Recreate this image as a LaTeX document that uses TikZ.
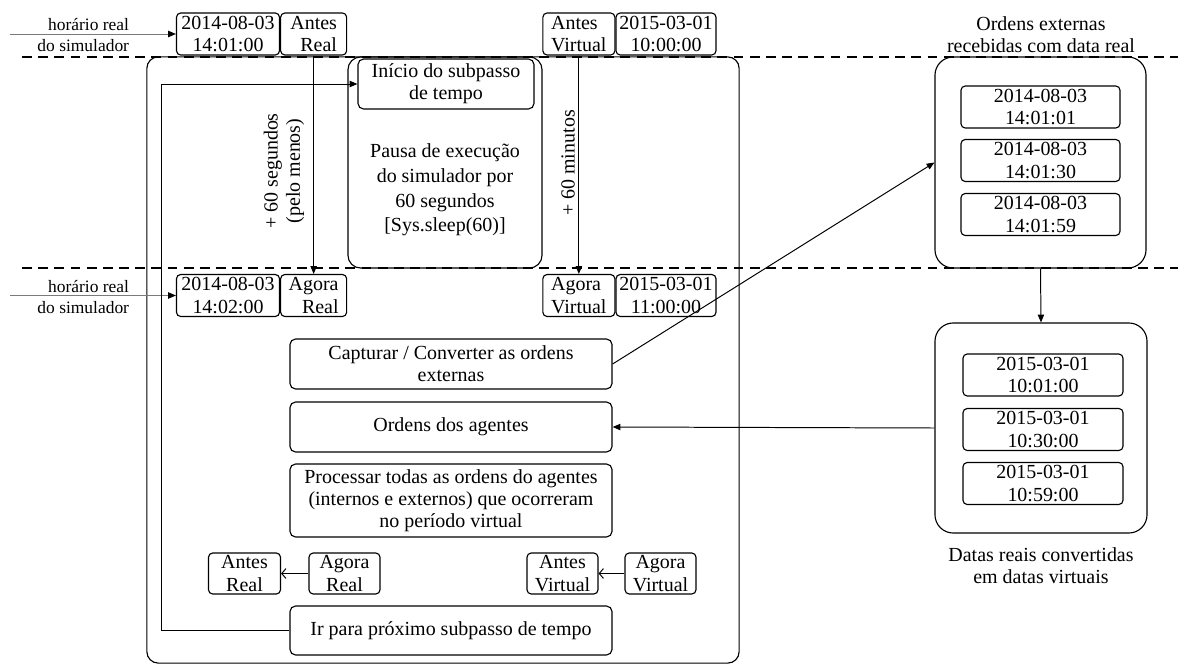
\documentclass[tikz,border=0pt]{standalone}
\usepackage{fontspec}
\setmainfont{Liberation Serif}
\usetikzlibrary{arrows.meta, calc, positioning}
\definecolor{ink}{HTML}{000000}
\definecolor{feed}{HTML}{7A7A7A}

\begin{document}
\begin{tikzpicture}[
    x=0.025cm,
    y=-0.025cm,
    font=\fontsize{14.2}{15.8}\selectfont,
    text=ink,
    flow/.style={
      draw=ink,
      line width=0.7pt,
      -{Triangle[length=5.5pt,width=4.5pt]},
    },
    back/.style={
      draw=ink,
      line width=0.7pt,
      -{Straight Barb[length=3pt,width=7pt]},
    },
    feedline/.style={
      draw=feed,
      line width=0.6pt,
      -{Triangle[length=5.5pt,width=4.5pt,color=ink]},
    },
    sep/.style={
      draw=ink,
      line width=1.3pt,
      dash pattern=on 7pt off 4.5pt,
    },
    stamp/.style={
      draw=ink,
      line width=0.8pt,
      rounded corners=3pt,
      minimum width=2.575cm,
      minimum height=1.05cm,
      inner sep=0pt,
      align=center,
    },
    tag/.style={
      stamp,
      minimum width=1.65cm,
    },
    mini/.style={
      stamp,
      minimum width=1.8cm,
      minimum height=1.025cm,
    },
    card/.style={
      draw=ink,
      line width=0.8pt,
      rounded corners=4pt,
      minimum width=8.05cm,
      minimum height=1.25cm,
      inner sep=0pt,
      align=center,
    },
    panel/.style={
      draw=ink,
      line width=0.8pt,
      rounded corners=#1,
      inner sep=0pt,
    },
    note/.style={
      font=\fontsize{12.4}{15.6}\selectfont,
      align=right,
      anchor=east,
    },
  ]

  \useasboundingbox (0,0) rectangle (1178,664);

  % Time step separators
  \draw[sep] (22,57) -- (1178,57);
  \draw[sep] (22,268) -- (1178,268);

  % Simulator loop
  \node[panel=8pt, minimum width=14.8cm, minimum height=15.15cm] (sim) at (443,360) {};
  \node[panel=9pt, minimum width=4.85cm, minimum height=5.275cm] (pausa) at (445,162.5) {};
  \node[card, minimum width=4.4cm] (inicio) at (446,84) {Início do subpasso\\de tempo};
  \node[align=center, font=\fontsize{14.2}{17.6}\selectfont] (pausaTxt) at (445,190) {%
    Pausa de execução\\do simulador por\\60 segundos\\{[Sys.sleep(60)]}};

  % Clocks before the pause
  \node[stamp] (dateAR) at (228,34) {2014-08-03\\14:01:00};
  \node[tag, right=0pt of dateAR, align=right] (antesR) {Antes\\Real};
  \node[stamp, minimum width=2.5cm] (dateAV) at (666,34) {2015-03-01\\10:00:00};
  \node[tag, minimum width=1.8cm, left=0pt of dateAV, align=left] (antesV) {Antes\\Virtual};

  % Clocks after the pause
  \node[stamp] (dateNR) at (228,295.5) {2014-08-03\\14:02:00};
  \node[tag, right=0pt of dateNR, align=right] (agoraR) {Agora\\Real};
  \node[stamp, minimum width=2.5cm] (dateNV) at (666,295.5) {2015-03-01\\11:00:00};
  \node[tag, minimum width=1.8cm, left=0pt of dateNV, align=left] (agoraV) {Agora\\Virtual};

  % Wall clock feeds
  \node[note] (noteA) at (134,35) {horário real\\do simulador};
  \node[note] (noteN) at (134,297) {horário real\\do simulador};
  \coordinate (inA) at (10,34);
  \coordinate (inN) at (10,295.5);
  \draw[feedline] (inA) -- (dateAR.west);
  \draw[feedline] (inN) -- (dateNR.west);

  % Clock advances
  \draw[flow] (antesR.south) -- (antesR.south |- agoraR.north);
  \draw[flow] (antesV.south) -- (antesV.south |- agoraV.north);
  \node[rotate=90, align=center] (gainR) at (284,171) {+ 60 segundos\\(pelo menos)};
  \node[rotate=90] (gainV) at (568,163) {+ 60 minutos};

  % Step cards
  \node[card] (capt) at (451,364) {Capturar / Converter as ordens\\externas};
  \node[card] (agent) at (451,427) {Ordens dos agentes};
  \node[card, minimum height=1.825cm] (proc) at (451,500.5) {%
    Processar todas as ordens do agentes\\(internos e externos) que ocorreram\\no período virtual};
  \node[card, minimum height=1.225cm] (next) at (451,630.5) {Ir para próximo subpasso de tempo};

  % Clock hand-over
  \node[mini] (antesR2) at (244.5,573.5) {Antes\\Real};
  \node[mini, minimum width=1.775cm] (agoraR2) at (344.5,573.5) {Agora\\Real};
  \node[mini, minimum width=1.775cm] (antesV2) at (562.5,573.5) {Antes\\Virtual};
  \node[mini, minimum width=1.775cm] (agoraV2) at (660.5,573.5) {Agora\\Virtual};
  \draw[back] (agoraR2.west) -- (antesR2.east);
  \draw[back] (agoraV2.west) -- (antesV2.east);

  % External orders
  \node[align=center] (extTitle) at (1041,34.5) {Ordens externas\\recebidas com data real};
  \node[panel=13pt, minimum width=5.275cm, minimum height=5.275cm] (ext) at (1040.5,162.5) {};
  \node[stamp, minimum width=3.975cm] (e1) at (1040.5,107) {2014-08-03\\14:01:01};
  \node[stamp, minimum width=3.975cm] (e2) at (1040.5,160.5) {2014-08-03\\14:01:30};
  \node[stamp, minimum width=3.975cm] (e3) at (1040.5,214.5) {2014-08-03\\14:01:59};

  \node[panel=13pt, minimum width=5.3cm, minimum height=5.25cm] (virt) at (1041,428) {};
  \node[stamp, minimum width=4cm] (v1) at (1043,375) {2015-03-01\\10:01:00};
  \node[stamp, minimum width=4cm] (v2) at (1043,429.5) {2015-03-01\\10:30:00};
  \node[stamp, minimum width=4cm] (v3) at (1043,483.5) {2015-03-01\\10:59:00};
  \node[align=center] (virtTitle) at (1041,566) {Datas reais convertidas\\em datas virtuais};

  % Order flow
  \draw[flow] (capt.east) -- (ext.west);
  \draw[flow] (ext.south) -- (virt.north);
  \draw[flow] (virt.west) -- (agent.east);
  \draw[flow] (next.west) -- ++(-128,0) |- (inicio.west);

\end{tikzpicture}
\end{document}
